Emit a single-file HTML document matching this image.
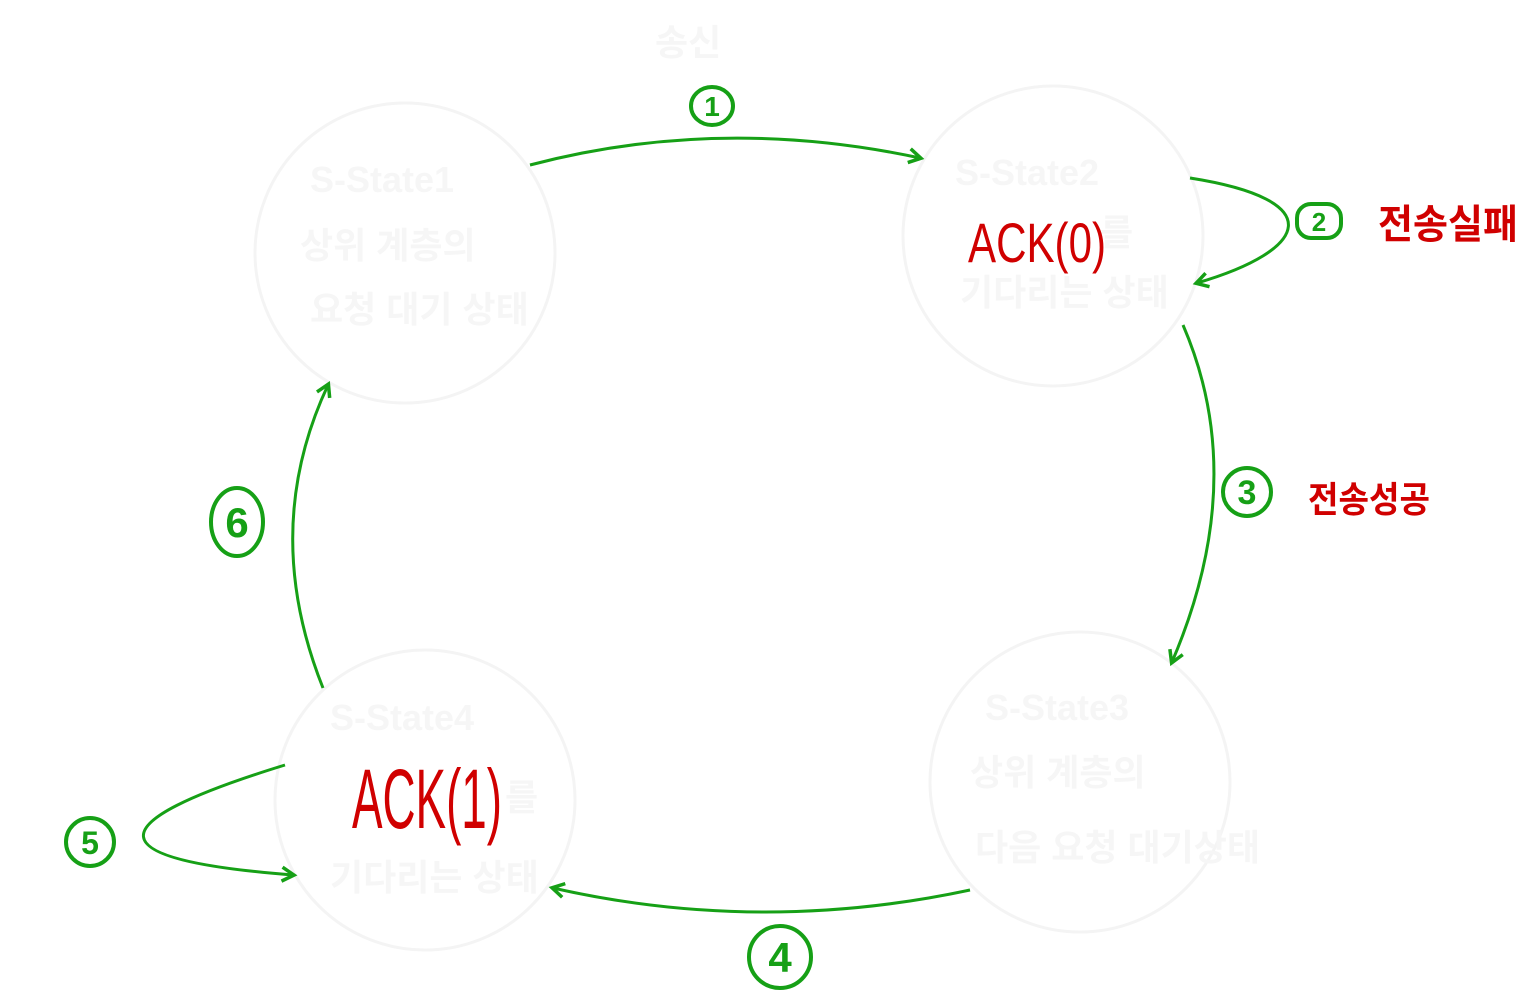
<!DOCTYPE html>
<html><head><meta charset="utf-8"><style>
html,body{margin:0;padding:0;background:#fff;width:1523px;height:1000px;overflow:hidden}
svg{display:block}
.faint{fill:#f6f6f6;font-family:"Liberation Sans","Noto Sans CJK KR",sans-serif;font-size:36px;font-weight:bold}
.red{fill:#d00000;font-family:"Liberation Sans","Noto Sans CJK KR",sans-serif}
.num{fill:#16a016;font-family:"Liberation Sans",sans-serif;font-weight:bold}
</style></head><body>
<svg width="1523" height="1000" viewBox="0 0 1523 1000">
<defs><marker id="ah" markerWidth="18" markerHeight="18" refX="13" refY="9" orient="auto" markerUnits="userSpaceOnUse"><path d="M2,2 L14,9 L2,16" fill="none" stroke="#16a016" stroke-width="3.5"/></marker></defs>
<text class="faint" x="655" y="55">송신</text>
<g fill="none" stroke="#f4f4f4" stroke-width="3">
<circle cx="405" cy="253" r="150"/>
<circle cx="1053" cy="236" r="150"/>
<circle cx="1080" cy="782" r="150"/>
<circle cx="425" cy="800" r="150"/>
</g>
<g><text class="faint" x="310" y="192">S-State1</text><text class="faint" x="300" y="258">상위 계층의</text><text class="faint" x="310" y="322">요청 대기 상태</text></g>
<g><text class="faint" x="955" y="185">S-State2</text><text class="faint" x="1100" y="245">를</text><text class="faint" x="960" y="305">기다리는 상태</text></g>
<g><text class="faint" x="985" y="720">S-State3</text><text class="faint" x="970" y="785">상위 계층의</text><text class="faint" x="975" y="860">다음 요청 대기상태</text></g>
<g><text class="faint" x="330" y="730">S-State4</text><text class="faint" x="505" y="810">를</text><text class="faint" x="330" y="890">기다리는 상태</text></g>
<g fill="none" stroke="#16a016" stroke-width="3" marker-end="url(#ah)">
<path d="M530,165 Q720,115 920,158"/>
<path d="M1190,178 C1330,200 1310,250 1197,283"/>
<path d="M1183,325 Q1250,480 1172,662"/>
<path d="M970,890 Q760,935 553,888"/>
<path d="M285,765 C90,825 100,860 293,875"/>
<path d="M323,688 Q260,530 328,385"/>
</g>
<g fill="none" stroke="#16a016" stroke-width="4">
<ellipse cx="712" cy="106" rx="21" ry="19"/>
<rect x="1297" y="204" width="44" height="34" rx="14"/>
<circle cx="1247" cy="492" r="24"/>
<circle cx="780" cy="957" r="31"/>
<circle cx="90" cy="842" r="24"/>
<ellipse cx="237" cy="522" rx="26" ry="34"/>
</g>
<text class="num" x="712" y="116" font-size="28" text-anchor="middle">1</text>
<text class="num" x="1319" y="231" font-size="26" text-anchor="middle">2</text>
<text class="num" x="1247" y="504" font-size="34" text-anchor="middle">3</text>
<text class="num" x="780" y="972" font-size="42" text-anchor="middle">4</text>
<text class="num" x="90" y="854" font-size="32" text-anchor="middle">5</text>
<text class="num" x="237" y="537" font-size="42" text-anchor="middle">6</text>
<text class="red" x="968" y="262" font-size="56" textLength="138" lengthAdjust="spacingAndGlyphs">ACK(0)</text>
<text class="red" x="352" y="828" font-size="84" textLength="150" lengthAdjust="spacingAndGlyphs">ACK(1)</text>
<text class="red" x="1378" y="238" font-size="40" font-weight="bold" textLength="140" lengthAdjust="spacingAndGlyphs">전송실패</text>
<text class="red" x="1308" y="512" font-size="36" font-weight="bold" textLength="122" lengthAdjust="spacingAndGlyphs">전송성공</text>
</svg>
</body></html>
